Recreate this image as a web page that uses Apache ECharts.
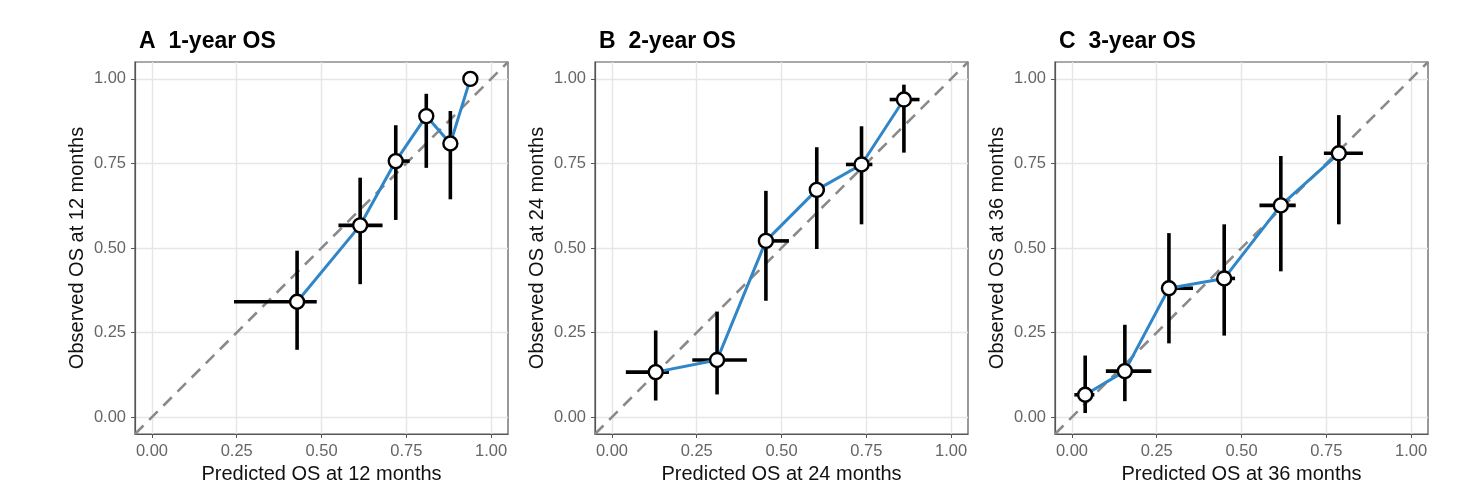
<!DOCTYPE html>
<html lang="en">
<head>
    <title>Calibration curves</title>
    <meta charset="utf-8" />
    <script src="https://cdn.jsdelivr.net/npm/echarts@6/dist/echarts.min.js"></script>
    <style>
        html, body { margin: 0; padding: 0; background: #fff; }
        #main { width: 1482px; height: 495px; }
    </style>
</head>
<body>
<div id="main"></div>
<script>
    // panel titles / axis names
    let panelTitles = ['A  1-year OS', 'B  2-year OS', 'C  3-year OS']
    let monthLabels = ['12', '24', '36']
    let tickValues = [0, 0.25, 0.5, 0.75, 1]

    // A: 1-year
    let predA = [0.428, 0.614, 0.719, 0.809, 0.880, 0.939]
    let obsA = [0.341, 0.567, 0.757, 0.890, 0.809, 1.000]
    let predLowA = [0.242, 0.550, 0.702, 0.800, 0.872, 0.939]
    let predHighA = [0.486, 0.680, 0.760, 0.818, 0.888, 0.939]
    let obsLowA = [0.199, 0.393, 0.583, 0.737, 0.644, 1.000]
    let obsHighA = [0.492, 0.708, 0.863, 0.956, 0.905, 1.000]

    // B: 2-year
    let predB = [0.129, 0.310, 0.454, 0.604, 0.736, 0.861]
    let obsB = [0.133, 0.169, 0.521, 0.672, 0.747, 0.939]
    let predLowB = [0.041, 0.237, 0.432, 0.584, 0.690, 0.819]
    let predHighB = [0.168, 0.398, 0.522, 0.628, 0.768, 0.907]
    let obsLowB = [0.049, 0.067, 0.344, 0.497, 0.570, 0.782]
    let obsHighB = [0.256, 0.312, 0.669, 0.798, 0.860, 0.983]

    // C: 3-year
    let predC = [0.039, 0.156, 0.286, 0.449, 0.616, 0.787]
    let obsC = [0.066, 0.136, 0.381, 0.410, 0.626, 0.780]
    let predLowC = [0.007, 0.100, 0.266, 0.432, 0.553, 0.743]
    let predHighC = [0.066, 0.234, 0.357, 0.481, 0.660, 0.858]
    let obsLowC = [0.012, 0.047, 0.218, 0.241, 0.431, 0.570]
    let obsHighC = [0.182, 0.273, 0.544, 0.570, 0.772, 0.893]

    let panels = [
        [predA, obsA, predLowA, predHighA, obsLowA, obsHighA],
        [predB, obsB, predLowB, predHighB, obsLowB, obsHighB],
        [predC, obsC, predLowC, predHighC, obsLowC, obsHighC],
    ]

    let gridLefts = [135, 595, 1055]
    let fontFamily = '"Liberation Sans", Arial, sans-serif'

    let chart = echarts.init(document.getElementById('main'))

    let titles = []
    let grids = []
    let xAxes = []
    let yAxes = []
    let series = []

    function axisCommon(name, nameGap) {
        return {
            type: 'value',
            min: -0.05,
            max: 1.05,
            name: name,
            nameLocation: 'middle',
            nameGap: nameGap,
            nameTextStyle: { fontSize: 20, color: '#111', fontFamily: fontFamily },
            axisLine: { show: true, onZero: false, lineStyle: { color: '#555', width: 1.2 } },
            axisTick: { show: true, length: 4, customValues: tickValues, lineStyle: { color: '#555' } },
            axisLabel: {
                customValues: tickValues,
                fontSize: 16.5,
                color: '#666',
                fontFamily: fontFamily,
                margin: 9,
                formatter: function (v) { return v.toFixed(2) }
            },
            splitLine: { show: true, lineStyle: { color: '#e6e6e6', width: 1.4 } },
        }
    }

    panels.forEach(function (p, i) {
        let pred = p[0], obs = p[1], pLo = p[2], pHi = p[3], oLo = p[4], oHi = p[5]

        titles.push({
            text: panelTitles[i],
            left: gridLefts[i] - 1,
            top: 25,
            textStyle: { fontSize: 23, fontWeight: 'bold', color: '#000', fontFamily: fontFamily }
        })
        grids.push({
            left: gridLefts[i], top: 62, width: 373, height: 372,
            show: true, borderColor: '#555', borderWidth: 1.2, backgroundColor: '#fff'
        })
        let xa = axisCommon('Predicted OS at ' + monthLabels[i] + ' months', 27)
        xa.gridIndex = i
        xAxes.push(xa)
        let ya = axisCommon('Observed OS at ' + monthLabels[i] + ' months', 48)
        ya.gridIndex = i
        yAxes.push(ya)

        // reference diagonal
        series.push({
            type: 'line',
            xAxisIndex: i, yAxisIndex: i,
            data: [[-0.05, -0.05], [1.05, 1.05]],
            symbol: 'none',
            silent: true,
            lineStyle: { color: '#8a8a8a', width: 2.6, type: [12, 8] },
            z: 2
        })

        // error bars
        let barData = pred.map(function (x, k) { return [x, obs[k], pLo[k], pHi[k], oLo[k], oHi[k]] })
        series.push({
            type: 'custom',
            xAxisIndex: i, yAxisIndex: i,
            data: barData,
            renderItem: function (params, api) {
                let c = api.coord([api.value(0), api.value(1)])
                let h1 = api.coord([api.value(2), api.value(1)])
                let h2 = api.coord([api.value(3), api.value(1)])
                let v1 = api.coord([api.value(0), api.value(4)])
                let v2 = api.coord([api.value(0), api.value(5)])
                let st = { stroke: '#000', lineWidth: 3.6 }
                return {
                    type: 'group',
                    children: [
                        { type: 'line', shape: { x1: h1[0], y1: h1[1], x2: h2[0], y2: h2[1] }, style: st },
                        { type: 'line', shape: { x1: v1[0], y1: v1[1], x2: v2[0], y2: v2[1] }, style: st },
                    ]
                }
            },
            z: 3
        })

        // calibration line
        series.push({
            type: 'line',
            xAxisIndex: i, yAxisIndex: i,
            data: pred.map(function (x, k) { return [x, obs[k]] }),
            symbol: 'circle',
            symbolSize: 14,
            itemStyle: { color: '#fff', borderColor: '#000', borderWidth: 2.4 },
            lineStyle: { color: '#2f86c8', width: 3 },
            z: 4
        })
    })

    chart.setOption({
        backgroundColor: '#fff',
        animation: false,
        title: titles,
        grid: grids,
        xAxis: xAxes,
        yAxis: yAxes,
        series: series
    })
</script>
</body>
</html>
